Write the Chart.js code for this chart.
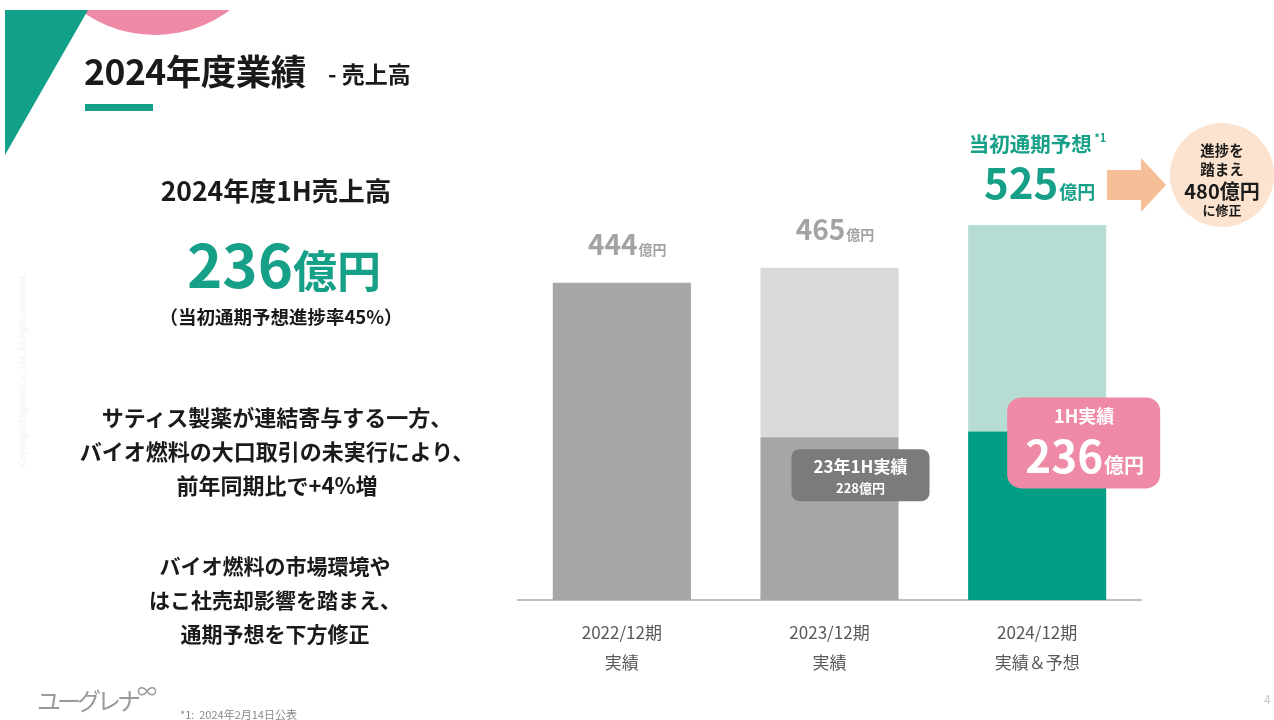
<!DOCTYPE html>
<html lang="ja">
<head>
<meta charset="utf-8">
<title>2024年度業績 - 売上高</title>
<script src="https://cdn.jsdelivr.net/npm/chart.js@4.4.1/dist/chart.umd.min.js"></script>
<style>
  body { margin: 0; width: 1274px; height: 720px; overflow: hidden; background: #fff; position: relative;
         font-family: "Noto Sans CJK JP", "Noto Sans", sans-serif; color: #1a1a1a; }
  #deco { position: absolute; left: 0; top: 0; }
  #chart { position: absolute; left: 0; top: 0; }
  .t { position: absolute; white-space: nowrap; font-weight: 700; }
  .c { transform: translateX(-50%); text-align: center; }
</style>
</head>
<body>
<svg id="deco" width="1274" height="720">
  <circle cx="155" cy="-90" r="125" fill="#ee8aa6"/>
  <rect x="0" y="0" width="1274" height="10" fill="#fff"/>
  <polygon points="5,10 88,10 5,155" fill="#12a088"/>
  <rect x="85" y="104" width="68" height="7" fill="#12a088"/>
  <polygon points="1107,170 1141,170 1141,158 1166,185 1141,212 1141,200 1107,200" fill="#f6bf98"/>
  <circle cx="1222" cy="175" r="52" fill="#fce3cf"/>
</svg>
<canvas id="chart" width="1274" height="720"></canvas>

<div class="t" style="left:84px;top:44px;font-size:35.5px;letter-spacing:-0.5px">2024年度業績</div>
<div class="t" style="left:328px;top:56px;font-size:23px">- 売上高</div>

<div class="t c" style="left:276px;top:170px;font-size:26.5px">2024年度1H売上高</div>
<div class="t c" style="left:284px;top:218px;color:#17a088"><span style="font-size:60px">236</span><span style="font-size:44px">億円</span></div>
<div class="t c" style="left:281px;top:303px;font-size:18.5px">（当初通期予想進捗率45%）</div>

<div class="t c" style="left:277px;top:399px;font-size:22px;line-height:34px">サティス製薬が連結寄与する一方、<br>バイオ燃料の大口取引の未実行により、<br>前年同期比で+4%増</div>
<div class="t c" style="left:275px;top:548px;font-size:21px;line-height:34px">バイオ燃料の市場環境や<br>はこ社売却影響を踏まえ、<br>通期予想を下方修正</div>

<div class="t c" style="left:1222px;top:140px;font-size:14.5px;line-height:19px">進捗を<br>踏まえ</div>
<div class="t c" style="left:1222px;top:176px;font-size:20px">480億円</div>
<div class="t c" style="left:1222px;top:200px;font-size:13px">に修正</div>

<div class="t" style="left:37px;top:682px;font-size:24px;color:#9a9a9a;font-weight:400;letter-spacing:-4px">ユーグレナ<span style="font-size:20px;vertical-align:top;letter-spacing:0;position:relative;top:-6px">∞</span></div>
<div class="t" style="left:180px;top:706px;font-size:11px;color:#8a8a8a;font-weight:400">*1:&nbsp; 2024年2月14日公表</div>
<div class="t" style="left:1264px;top:690px;font-size:12px;color:#c8c8c8;font-weight:400">4</div>
<div class="t" style="left:22px;top:370px;font-size:9px;color:#efefef;font-weight:400;transform:translate(-50%,-50%) rotate(-90deg)">Copyright Euglena Co., Ltd. All rights reserved.</div>

<script>
// 売上高データ（億円）
const categories = [['2022/12期', '実績'], ['2023/12期', '実績'], ['2024/12期', '実績＆予想']];
const fullYearValues = [444, 465, 525];   // 通期（実績・当初予想）
const actualValues = [444, 228, 236];     // 下段：実績（23年・24年は1H）
const restValues = fullYearValues.map((v, i) => v - actualValues[i]);

const bottomColors = ['#a6a6a6', '#a6a6a6', '#009e85'];
const topColors = ['#d9d9d9', '#d9d9d9', '#b7dcd3'];
const FONT = '"Noto Sans CJK JP", "Noto Sans", sans-serif';

// 数字＋単位（億円）を中央揃えで描画
function drawValue(ctx, x, y, num, unit, color, bigSize, smallSize) {
  ctx.font = '700 ' + bigSize + 'px ' + FONT;
  const w1 = ctx.measureText(num).width;
  ctx.font = '700 ' + smallSize + 'px ' + FONT;
  const w2 = ctx.measureText(unit).width;
  let left = x - (w1 + w2) / 2;
  ctx.fillStyle = color;
  ctx.textAlign = 'left';
  ctx.textBaseline = 'alphabetic';
  ctx.font = '700 ' + bigSize + 'px ' + FONT;
  ctx.fillText(num, left, y);
  ctx.font = '700 ' + smallSize + 'px ' + FONT;
  ctx.fillText(unit, left + w1 + 1, y);
}

function roundBox(ctx, x, y, w, h, r, color) {
  ctx.fillStyle = color;
  ctx.beginPath();
  ctx.roundRect(x, y, w, h, r);
  ctx.fill();
}

const labelPlugin = {
  id: 'labels',
  afterDatasetsDraw(chart) {
    const ctx = chart.ctx;
    const yScale = chart.scales.y;
    const bars = chart.getDatasetMeta(0).data;
    ctx.save();
    // 通期の値ラベル（2022, 2023）
    for (let i = 0; i < 2; i++) {
      const top = yScale.getPixelForValue(fullYearValues[i]);
      drawValue(ctx, bars[i].x + 5, top - 28, String(fullYearValues[i]), '億円', '#a3a3a3', 28, 14);
    }
    // 2024 当初通期予想
    const x3 = bars[2].x;
    const top3 = yScale.getPixelForValue(fullYearValues[2]);
    ctx.fillStyle = '#17a088';
    ctx.textAlign = 'center';
    ctx.font = '700 20.5px ' + FONT;
    ctx.fillText('当初通期予想', x3 - 7, top3 - 73);
    ctx.textAlign = 'left';
    ctx.font = '700 11px ' + FONT;
    ctx.fillText('*1', x3 + 57, top3 - 83);
    drawValue(ctx, x3 + 2, top3 - 26, String(fullYearValues[2]), '億円', '#17a088', 42, 18);

    // 23年1H実績ボックス
    const b2 = bars[1];
    const y2 = yScale.getPixelForValue(actualValues[1]);
    roundBox(ctx, b2.x - 38, y2 + 12, 138, 52, 8, '#7b7b7b');
    ctx.fillStyle = '#fff';
    ctx.textAlign = 'center';
    ctx.font = '700 17px ' + FONT;
    ctx.fillText('23年1H実績', b2.x + 31, y2 + 36);
    ctx.font = '700 13px ' + FONT;
    ctx.fillText(actualValues[1] + '億円', b2.x + 31, y2 + 56);

    // 1H実績ボックス（2024）
    const y3 = yScale.getPixelForValue(actualValues[2]);
    roundBox(ctx, x3 - 30, y3 - 34, 153, 91, 14, '#ee8aa6');
    ctx.fillStyle = '#fff';
    ctx.textAlign = 'center';
    ctx.font = '700 18px ' + FONT;
    ctx.fillText('1H実績', x3 + 47, y3 - 8);
    drawValue(ctx, x3 + 47, y3 + 42, String(actualValues[2]), '億円', '#fff', 44, 20);
    ctx.restore();
  }
};

const ctx = document.getElementById('chart').getContext('2d');
new Chart(ctx, {
  type: 'bar',
  data: {
    labels: categories,
    datasets: [
      { data: actualValues, backgroundColor: bottomColors },
      { data: restValues, backgroundColor: topColors }
    ]
  },
  options: {
    responsive: false,
    animation: false,
    layout: { padding: { left: 518, right: 133, top: 100, bottom: 0 } },
    datasets: { bar: { categoryPercentage: 1, barPercentage: 0.665 } },
    plugins: { legend: { display: false }, tooltip: { enabled: false } },
    scales: {
      x: {
        stacked: true,
        grid: { display: false, drawTicks: false },
        border: { color: '#bfbfbf', width: 2 },
        ticks: { color: '#595959', padding: 18, font: { size: 17, family: FONT, lineHeight: 1.75 } },
        afterFit(scale) { scale.height = 120; }
      },
      y: { stacked: true, display: false, min: 0, max: 700 }
    }
  },
  plugins: [labelPlugin]
});
</script>
</body>
</html>
